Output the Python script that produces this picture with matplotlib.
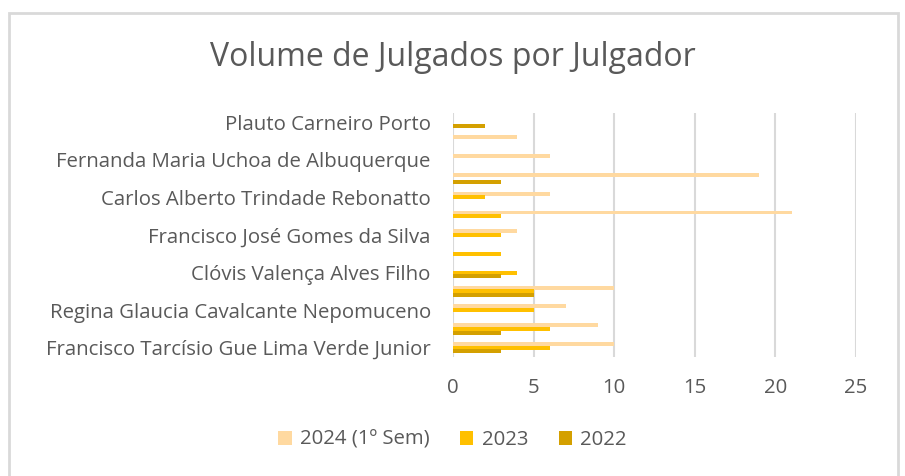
import numpy as np
import matplotlib
matplotlib.use("Agg")
import matplotlib.pyplot as plt
from matplotlib.patches import Rectangle, Patch

plt.rcParams['font.family'] = ['Open Sans', 'DejaVu Sans']

# categories from top to bottom (only every other name is shown in the chart)
names = [
    "Plauto Carneiro Porto", "",
    "Fernanda Maria Uchoa de Albuquerque", "",
    "Carlos Alberto Trindade Rebonatto", "",
    "Francisco José Gomes da Silva", "",
    "Clóvis Valença Alves Filho", "",
    "Regina Glaucia Cavalcante Nepomuceno", "",
    "Francisco Tarcísio Gue Lima Verde Junior",
]
v2024 = [0, 4, 6, 19, 6, 21, 4, 0, 0, 10, 7, 9, 10]
v2023 = [0, 0, 0, 0, 2, 3, 3, 3, 4, 5, 5, 6, 6]
v2022 = [2, 0, 0, 3, 0, 0, 0, 0, 3, 5, 0, 3, 3]

series = ["2024 (1º Sem)", "2023", "2022"]
colors = ["#FFD9A0", "#FFC000", "#D4A000"]
txt = "#595959"
fs = 14.7

fig = plt.figure(figsize=(9.05, 4.76), dpi=100)
fig.patches.append(Rectangle((9 / 905, -0.1), 889 / 905, 1.1 - 13 / 476,
                             transform=fig.transFigure, fill=False,
                             edgecolor="#D9D9D9", lw=2))

ax = fig.add_axes([453 / 905, 1 - 357 / 476, (856 - 453) / 905, (357 - 113) / 476])
y = np.arange(len(names))
h = 0.21
for vals, off, c in zip([v2024, v2023, v2022], [-0.2, 0, 0.2], colors):
    ax.barh(y + off, vals, height=h, color=c, zorder=3)

ax.set_xlim(0, 25)
ax.set_ylim(len(names) - 0.5, -0.5)
ax.set_xticks(range(0, 26, 5))
ax.set_yticks(y)
ax.set_yticklabels(names)
ax.tick_params(axis="both", length=0, labelsize=fs, colors=txt)
ax.tick_params(axis="y", pad=16)
ax.tick_params(axis="x", pad=15)
ax.grid(axis="x", color="#D9D9D9", lw=1.5, zorder=0)
for s in ax.spines.values():
    s.set_visible(False)

fig.text(0.5, 1 - 58 / 476, "Volume de Julgados por Julgador", ha="center",
         va="center", fontsize=23, color=txt)

handles = [Patch(facecolor=c, label=s) for s, c in zip(series, colors)]
fig.legend(handles=handles, loc="center", bbox_to_anchor=(0.5, 1 - 440 / 476),
           ncol=3, frameon=False, fontsize=fs, labelcolor=txt,
           handlelength=0.65, handleheight=0.65, handletextpad=0.4, columnspacing=1.5)

fig.savefig("out.png", dpi=100)
